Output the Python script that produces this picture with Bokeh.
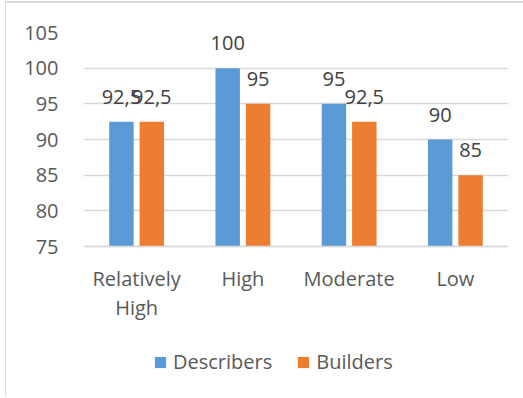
from bokeh.plotting import figure
from bokeh.models import (ColumnDataSource, FactorRange, FixedTicker, Legend, LegendItem,
                          LabelSet)
from bokeh.core.properties import value
from bokeh.transform import dodge
from bokeh.embed import file_html
from bokeh.resources import INLINE

categories = ["Relatively\nHigh", "High", "Moderate", "Low"]
describers = [92.5, 100, 95, 90]
builders = [92.5, 95, 92.5, 85]
y_ticks = [75, 80, 85, 90, 95, 100, 105]

def fmt(v):
    return f"{v:g}".replace(".", ",")

src = ColumnDataSource(dict(
    cat=categories,
    desc=describers,
    build=builders,
    desc_lbl=[fmt(v) for v in describers],
    build_lbl=[fmt(v) for v in builders],
))

FONT = "Open Sans"
FS = "20px"
BLUE = "#5B9BD5"
ORANGE = "#ED7D31"
GRID = "#D9D9D9"
TXT = "#595959"

# frame extends below the value axis so the legend fits inside it
px_per_unit = 214 / 30
y_start = 75 - (398 - 246) / px_per_unit

p = figure(width=518, height=395, x_range=FactorRange(*categories, range_padding=0),
           y_range=(y_start, 105), output_backend="svg", toolbar_location=None,
           min_border_left=77, min_border_right=16, min_border_top=29, min_border_bottom=0)
p.styles = {"border-left": "1px solid #D9D9D9", "border-top": "2px solid #D9D9D9",
            "margin-left": "5px", "margin-top": "1px"}
p.outline_line_color = None
p.xgrid.grid_line_color = None
p.ygrid.grid_line_color = GRID
p.ygrid.grid_line_width = 1.5

off = 0.143
bw = 0.23
r1 = p.vbar(x=dodge("cat", -off, range=p.x_range), top="desc", bottom=75, width=bw,
            source=src, fill_color=BLUE, line_color=None)
r2 = p.vbar(x=dodge("cat", off, range=p.x_range), top="build", bottom=75, width=bw,
            source=src, fill_color=ORANGE, line_color=None)

for col, lbl, o in (("desc", "desc_lbl", -off), ("build", "build_lbl", off)):
    ls = LabelSet(x=dodge("cat", o, range=p.x_range), y=col, text=lbl, source=src,
                  y_offset=25, text_align="center", text_baseline="middle",
                  text_font=value(FONT), text_font_size=value(FS), text_color="#404040")
    p.add_layout(ls)

p.yaxis.ticker = FixedTicker(ticks=y_ticks)
p.yaxis.axis_line_color = None
p.yaxis.major_tick_line_color = None
p.yaxis.minor_tick_line_color = None
p.yaxis.major_label_standoff = 19
p.yaxis.major_label_text_font = FONT
p.yaxis.major_label_text_font_size = FS
p.yaxis.major_label_text_color = TXT

p.xaxis.fixed_location = 75
p.xaxis.axis_line_color = GRID
p.xaxis.axis_line_width = 1.5
p.xaxis.major_tick_line_color = None
p.xaxis.minor_tick_line_color = None
p.xaxis.major_label_standoff = 12
p.xaxis.major_label_text_font = FONT
p.xaxis.major_label_text_font_size = FS
p.xaxis.major_label_text_color = TXT
p.xaxis.major_label_text_line_height = 1.1

legend = Legend(items=[LegendItem(label="Describers", renderers=[r1]),
                       LegendItem(label="Builders", renderers=[r2])],
                orientation="horizontal", location=(70, 23),
                glyph_width=14, glyph_height=14, label_standoff=6, spacing=24,
                label_height=22,
                padding=0, margin=0, border_line_color=None, background_fill_alpha=0,
                label_text_font=FONT, label_text_font_size=FS, label_text_color=TXT)
p.add_layout(legend)

open("out.html", "w").write(file_html(p, INLINE))
